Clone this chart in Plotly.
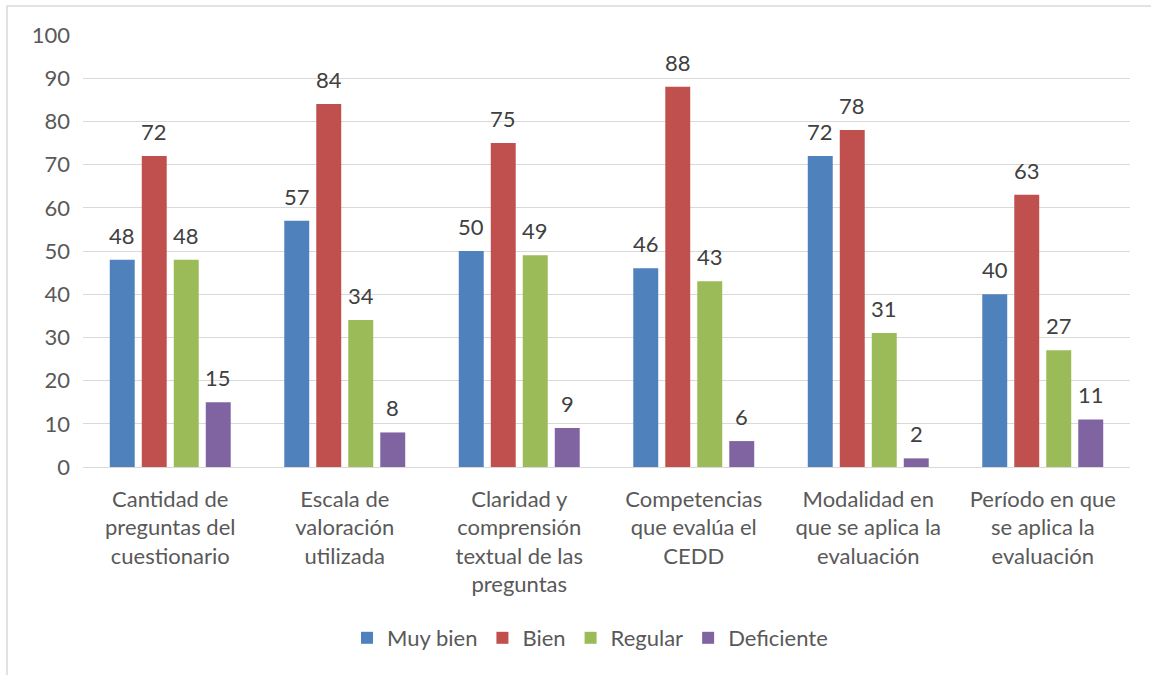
import plotly.graph_objects as go

categories = [
    "Cantidad de<br>preguntas del<br>cuestionario",
    "Escala de<br>valoración<br>utilizada",
    "Claridad y<br>comprensión<br>textual de las<br>preguntas",
    "Competencias<br>que evalúa el<br>CEDD",
    "Modalidad en<br>que se aplica la<br>evaluación",
    "Período en que<br>se aplica la<br>evaluación",
]
series_names = ["Muy bien", "Bien", "Regular", "Deficiente"]
muy_bien = [48, 57, 50, 46, 72, 40]
bien = [72, 84, 75, 88, 78, 63]
regular = [48, 34, 49, 43, 31, 27]
deficiente = [15, 8, 9, 6, 2, 11]
colors = ["#4F81BD", "#C0504D", "#9BBB59", "#8064A2"]

all_series = [muy_bien, bien, regular, deficiente]
FONT = "Lato"
FS = 22
BARGAP = 0.2665

fig = go.Figure()
for name, vals, col in zip(series_names, all_series, colors):
    fig.add_trace(go.Bar(
        x=categories, y=vals, name=name,
        marker=dict(color=col, line=dict(width=0)),
    ))

slot = (1 - BARGAP) / len(all_series)
annotations = []
for si, vals in enumerate(all_series):
    off = (si - (len(all_series) - 1) / 2) * slot
    for ci, v in enumerate(vals):
        annotations.append(dict(
            x=ci + off, y=v, xref="x", yref="y", text=str(v),
            showarrow=False, yanchor="bottom", yshift=9,
            font=dict(family=FONT, size=FS, color="#404040"),
        ))

L, R, T, B = 83, 21, 35, 208
W, H = 1151, 675
pw, ph = W - L - R, H - T - B
fig.add_shape(type="rect", xref="paper", yref="paper",
              x0=(7 - L) / pw, x1=(W + 20 - L) / pw,
              y0=(H - B - (H + 20)) / ph, y1=(H - B - 6) / ph,
              line=dict(color="#D9D9D9", width=1.5), layer="below")

fig.update_layout(
    width=W, height=H,
    margin=dict(l=L, r=R, t=T, b=B),
    paper_bgcolor="white", plot_bgcolor="white",
    barmode="group", bargap=BARGAP, bargroupgap=0.22,
    font=dict(family=FONT, size=FS, color="#595959"),
    annotations=annotations,
    legend=dict(orientation="h", x=(590 - L) / pw, xanchor="center",
                y=(H - B - 638) / ph, yanchor="middle",
                font=dict(family=FONT, size=FS, color="#595959"),
                itemwidth=30, traceorder="normal"),
    showlegend=True,
)
fig.update_yaxes(range=[0, 100], dtick=10, showgrid=True,
                 gridcolor="#D9D9D9", gridwidth=1.3, zeroline=False,
                 showline=False, ticks="", ticklabelstandoff=12,
                 tickfont=dict(family=FONT, size=FS, color="#595959"))
fig.update_xaxes(showline=True, linecolor="#D9D9D9", linewidth=1.3,
                 ticks="", ticklabelstandoff=12,
                 tickfont=dict(family=FONT, size=FS, color="#595959"))

fig.write_html("out.html")
